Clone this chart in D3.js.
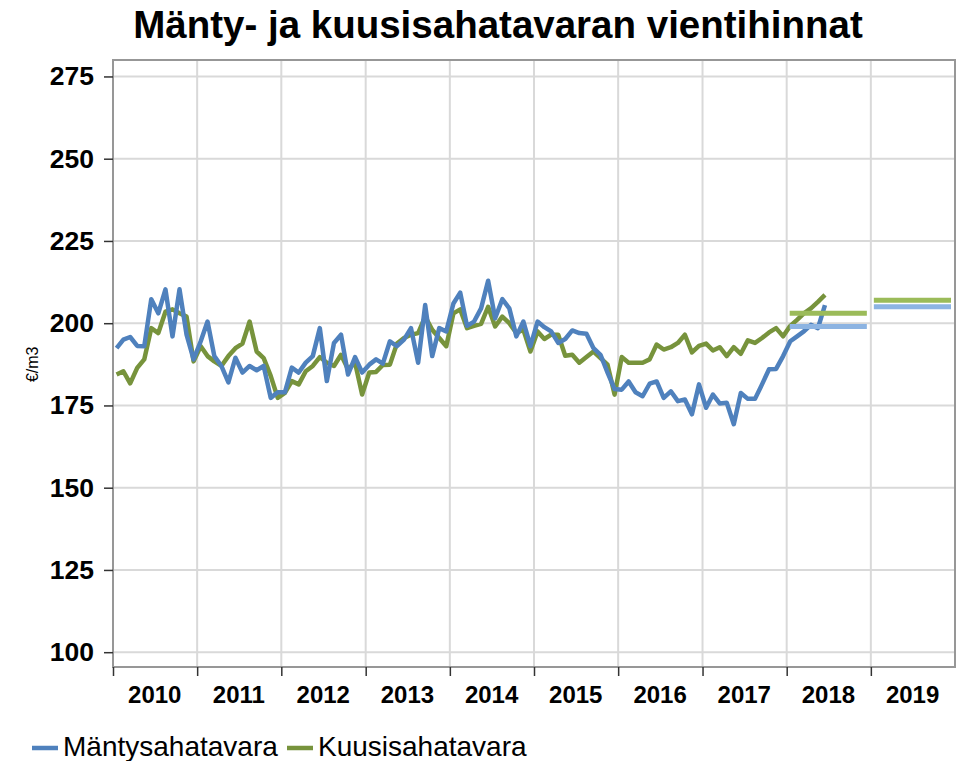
<!DOCTYPE html>
<html lang="fi">
    <head>
        <meta charset="utf-8">
        <title>Mänty- ja kuusisahatavaran vientihinnat</title>
        <style>
            body { margin: 0; background: white; }
            text { font-family: Arial, "Liberation Sans", sans-serif; fill: black; }
        </style>
    </head>
    <body>
        <div id="wrapper"></div>
        <script src="https://cdnjs.cloudflare.com/ajax/libs/d3/7.8.5/d3.min.js"></script>
        <script>
            // monthly export prices, €/m3, Jan 2010 - Jun 2018
            const startMonth = new Date(2010, 0, 1)
            const mantyPrices = [
                192.4, 195, 195.8, 193.1, 193, 207.3, 203, 210.3, 196, 210.3, 196.5, 189,
                194.5, 200.5, 190, 187, 182, 189.5, 185, 187, 185.7, 187, 177.3, 179,
                179, 186.5, 185, 188, 190, 198.5, 182.4, 194, 196.5, 184.4, 189.7, 185,
                187.4, 189, 187.7, 194.5, 193, 195, 198.5, 188, 205.5, 190, 198.5, 197.5,
                206, 209.3, 199.2, 200.5, 204.5, 212.9, 201.5, 207.3, 204.5, 196, 200.5, 193,
                200.5, 198.8, 197.5, 194, 195.2, 197.8, 197, 196.8, 192.4, 190.4, 185, 180,
                179.8, 182.3, 179, 177.8, 181.6, 182.3, 177.3, 179.3, 176.3, 176.8, 172.3, 181.4,
                174.3, 178.3, 175.6, 175.8, 169.3, 178.8, 177, 177, 181.4, 186, 186.1, 190,
                194.5, 196, 197.5, 199.5, 198.5, 205.5
            ]
            const kuusiPrices = [
                184.4, 185.4, 181.7, 186.4, 189, 198.5, 197, 203.5, 204.2, 203, 202, 188.4,
                193, 190, 188.4, 187, 190, 192.4, 193.8, 200.5, 191.4, 189.4, 184, 177.3,
                178.8, 182.4, 181.4, 185.4, 187, 189.7, 188, 187, 190.4, 186, 188, 178.3,
                185, 185.2, 187.3, 187.4, 193.8, 195.5, 196.5, 197, 202, 198, 195.5, 193,
                203, 204.2, 198.5, 199.2, 199.8, 205, 199, 202, 200, 197, 198, 191.4,
                197.5, 195.2, 196.5, 196.5, 190.1, 190.4, 188, 189.7, 191.4, 189.4, 187.4, 178.3,
                189.7, 188, 188, 188, 189, 193.5, 192, 192.7, 194, 196.5, 191.1, 193.1,
                193.8, 191.7, 192.7, 190, 192.7, 190.7, 194.8, 194, 195.5, 197.2, 198.5, 196,
                199.2, 201, 203, 204.5, 206.5, 208.6
            ]
            // forecasts
            const forecastYears = [2018, 2019]
            const mantyForecast = [199, 205]
            const kuusiForecast = [203, 207]

            const years = d3.range(2010, 2020)
            const yTicks = [100, 125, 150, 175, 200, 225, 250, 275]

            function drawChart() {
                const dimensions = {
                    width: 962,
                    height: 761,
                    margin: { top: 60, right: 7, bottom: 94, left: 113 },
                }
                dimensions.boundedWidth = dimensions.width - dimensions.margin.left - dimensions.margin.right
                dimensions.boundedHeight = dimensions.height - dimensions.margin.top - dimensions.margin.bottom

                const wrapper = d3.select("#wrapper")
                    .append("svg")
                    .attr("width", dimensions.width)
                    .attr("height", dimensions.height)

                const bounds = wrapper.append("g")
                    .attr("transform", `translate(${dimensions.margin.left},${dimensions.margin.top})`)

                const xScale = d3.scaleTime()
                    .domain([new Date(2010, 0, 1), new Date(2020, 0, 1)])
                    .range([0, dimensions.boundedWidth])

                const yScale = d3.scaleLinear()
                    .domain([95.5, 280])
                    .range([dimensions.boundedHeight, 0])

                const monthMid = i => {
                    const d0 = d3.timeMonth.offset(startMonth, i)
                    const d1 = d3.timeMonth.offset(startMonth, i + 1)
                    return new Date((+d0 + +d1) / 2)
                }

                // grid
                bounds.append("g")
                    .selectAll("line")
                    .data(yTicks)
                    .join("line")
                    .attr("x1", 0)
                    .attr("x2", dimensions.boundedWidth)
                    .attr("y1", d => yScale(d))
                    .attr("y2", d => yScale(d))
                    .attr("stroke", "#d9d9d9")
                    .attr("stroke-width", 2)

                bounds.append("g")
                    .selectAll("line")
                    .data(years.slice(1))
                    .join("line")
                    .attr("x1", d => xScale(new Date(d, 0, 1)))
                    .attr("x2", d => xScale(new Date(d, 0, 1)))
                    .attr("y1", 0)
                    .attr("y2", dimensions.boundedHeight)
                    .attr("stroke", "#d9d9d9")
                    .attr("stroke-width", 2)

                // frame
                bounds.append("rect")
                    .attr("width", dimensions.boundedWidth)
                    .attr("height", dimensions.boundedHeight)
                    .attr("fill", "none")
                    .attr("stroke", "#979797")
                    .attr("stroke-width", 2)

                // y axis
                const yAxis = bounds.append("g")
                    .call(d3.axisLeft(yScale).tickValues(yTicks).tickSize(9).tickPadding(10))
                yAxis.select(".domain").remove()
                yAxis.selectAll(".tick line").attr("stroke", "#333").attr("stroke-width", 1.5)
                yAxis.selectAll(".tick text")
                    .style("font-family", "Arial, 'Liberation Sans', sans-serif")
                    .style("font-size", "26.5px")
                    .style("font-weight", "bold")
                    .attr("fill", "black")

                // x axis: ticks at year boundaries, labels centred in the year
                const xAxis = bounds.append("g")
                    .attr("transform", `translate(0,${dimensions.boundedHeight})`)
                    .call(d3.axisBottom(xScale)
                        .tickValues(years.map(y => new Date(y, 0, 1)))
                        .tickSize(9)
                        .tickFormat(""))
                xAxis.select(".domain").remove()
                xAxis.selectAll(".tick line").attr("stroke", "#333").attr("stroke-width", 1.5)

                bounds.append("g")
                    .selectAll("text")
                    .data(years)
                    .join("text")
                    .attr("x", d => xScale(new Date(d, 6, 1)))
                    .attr("y", dimensions.boundedHeight + 36)
                    .attr("text-anchor", "middle")
                    .style("font-size", "24px")
                    .style("font-weight", "bold")
                    .text(d => d)

                // y axis title
                wrapper.append("text")
                    .attr("transform", `translate(38,${dimensions.margin.top + yScale(187.5)}) rotate(-90)`)
                    .attr("text-anchor", "middle")
                    .style("font-size", "16px")
                    .text("€/m3")

                // title
                wrapper.append("text")
                    .attr("x", 498)
                    .attr("y", 38)
                    .attr("text-anchor", "middle")
                    .style("font-size", "38.5px")
                    .style("font-weight", "bold")
                    .text("Mänty- ja kuusisahatavaran vientihinnat")

                // lines
                const lineGenerator = d3.line()
                    .x((d, i) => xScale(monthMid(i)))
                    .y(d => yScale(d))

                bounds.append("path")
                    .attr("d", lineGenerator(kuusiPrices))
                    .attr("fill", "none")
                    .attr("stroke", "#77933c")
                    .attr("stroke-width", 4.5)
                    .attr("stroke-linejoin", "round")

                bounds.append("path")
                    .attr("d", lineGenerator(mantyPrices))
                    .attr("fill", "none")
                    .attr("stroke", "#4f81bd")
                    .attr("stroke-width", 4.5)
                    .attr("stroke-linejoin", "round")

                // forecast bars
                const forecastX = (y, edge) => {
                    const x0 = xScale(new Date(y, 0, 1))
                    const x1 = xScale(new Date(y + 1, 0, 1))
                    return edge === 0 ? x0 + 3 : x1 - 4
                }
                const drawForecast = (values, color) => {
                    bounds.append("g")
                        .selectAll("line")
                        .data(values)
                        .join("line")
                        .attr("x1", (d, i) => forecastX(forecastYears[i], 0))
                        .attr("x2", (d, i) => forecastX(forecastYears[i], 1))
                        .attr("y1", d => yScale(d))
                        .attr("y2", d => yScale(d))
                        .attr("stroke", color)
                        .attr("stroke-width", 5)
                }
                drawForecast(kuusiForecast, "#9bbb59")
                drawForecast(mantyForecast, "#8db4e2")

                // legend
                const legendItems = [
                    { label: "Mäntysahatavara", color: "#4f81bd", x: 32 },
                    { label: "Kuusisahatavara", color: "#77933c", x: 287 },
                ]
                const legend = wrapper.append("g")
                    .selectAll("g")
                    .data(legendItems)
                    .join("g")
                    .attr("transform", d => `translate(${d.x},748)`)
                legend.append("line")
                    .attr("x1", 0)
                    .attr("x2", 26)
                    .attr("stroke", d => d.color)
                    .attr("stroke-width", 4.5)
                legend.append("text")
                    .attr("x", 31)
                    .attr("y", 8)
                    .style("font-size", "28px")
                    .text(d => d.label)
            }
            drawChart()
        </script>
    </body>
</html>
